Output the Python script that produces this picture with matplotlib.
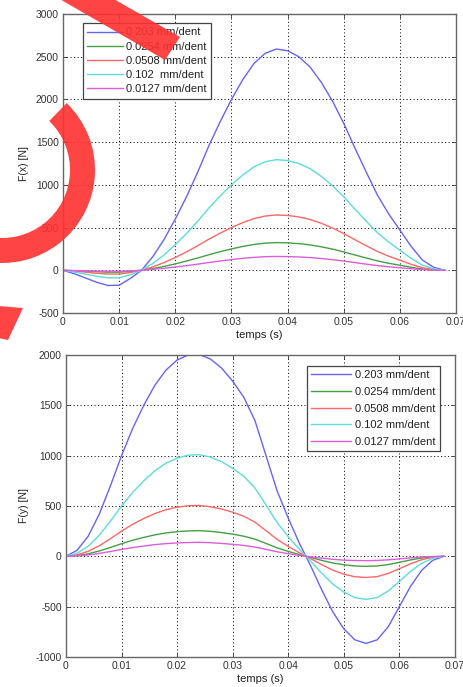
import matplotlib
matplotlib.use('Agg')
import numpy as np
from matplotlib import pyplot as plt
from matplotlib.patches import Wedge, Polygon
from matplotlib.transforms import IdentityTransform

plt.rcParams['font.family'] = ['Liberation Sans', 'DejaVu Sans']

# sample times (ms)
t_ms = [0, 2, 4, 6, 8, 10, 12, 14, 16, 18, 20, 22, 24, 26, 28, 30, 32, 34,
        36, 38, 40, 42, 44, 46, 48, 50, 52, 54, 56, 58, 60, 62, 64, 66, 68]

labels_x = ['0.203 mm/dent', '0.0254 mm/dent', '0.0508 mm/dent',
            '0.102  mm/dent', '0.0127 mm/dent']
labels_y = ['0.203 mm/dent', '0.0254 mm/dent', '0.0508 mm/dent',
            '0.102 mm/dent', '0.0127 mm/dent']
colors = ['#6464ff', '#44a044', '#ff6666', '#5cdcdc', '#dc5cdc']

# F(x) [N]
fx_0203 = [0, -40, -90, -140, -178, -175, -95, 0, 160, 360, 600, 860, 1150,
           1460, 1740, 2000, 2230, 2420, 2540, 2590, 2570, 2500, 2380, 2200,
           1980, 1720, 1430, 1150, 880, 660, 470, 280, 120, 35, 0]
fx_00254 = [0, -5, -11, -17, -22, -22, -13, 0, 20, 45, 75, 108, 144, 182,
            218, 250, 279, 302, 318, 324, 321, 312, 297, 275, 248, 215, 179,
            144, 110, 82, 59, 35, 15, 4, 0]
fx_00508 = [0, -10, -22, -35, -44, -44, -26, 0, 40, 90, 150, 215, 288, 365,
            435, 500, 558, 605, 635, 648, 642, 625, 595, 550, 495, 430, 358,
            288, 220, 165, 118, 70, 30, 9, 0]
fx_0102 = [0, -20, -45, -70, -88, -88, -52, 0, 80, 180, 300, 430, 575, 730,
           870, 1000, 1115, 1210, 1270, 1295, 1285, 1250, 1190, 1100, 990,
           860, 715, 575, 440, 330, 235, 140, 60, 18, 0]
fx_00127 = [0, -3, -6, -9, -11, -11, -7, 0, 10, 23, 38, 54, 72, 91, 109, 125,
            140, 151, 159, 162, 160, 156, 149, 138, 124, 108, 90, 72, 55, 41,
            30, 18, 8, 2, 0]

# F(y) [N]
fy_0203 = [0, 60, 200, 420, 700, 1000, 1270, 1500, 1700, 1850, 1950, 2000,
           2005, 1960, 1870, 1740, 1580, 1350, 1000, 650, 380, 130, -90, -330,
           -550, -720, -830, -865, -830, -700, -500, -300, -140, -40, 0]
fy_00254 = [0, 8, 25, 53, 88, 125, 160, 188, 213, 232, 245, 252, 255, 248,
            236, 220, 200, 171, 128, 84, 49, 17, -11, -40, -66, -84, -96, -100,
            -96, -82, -60, -36, -17, -5, 0]
fy_00508 = [0, 15, 50, 105, 175, 250, 318, 375, 425, 463, 488, 502, 505, 492,
            470, 438, 398, 340, 255, 168, 98, 35, -22, -82, -137, -177, -203,
            -210, -202, -170, -123, -74, -34, -10, 0]
fy_0102 = [0, 30, 100, 210, 350, 500, 635, 750, 850, 925, 975, 1005, 1010,
           985, 940, 875, 795, 680, 510, 335, 195, 70, -45, -165, -275, -355,
           -410, -428, -410, -345, -250, -150, -70, -20, 0]
fy_00127 = [0, 4, 14, 29, 48, 68, 87, 102, 116, 126, 133, 137, 139, 135, 128,
            119, 108, 92, 69, 45, 26, 9, -5, -18, -30, -38, -42, -43, -41, -35,
            -26, -16, -7, -2, 0]

x_ticks = [0, 0.01, 0.02, 0.03, 0.04, 0.05, 0.06, 0.07]
x_ticklabels = ['0', '0.01', '0.02', '0.03', '0.04', '0.05', '0.06', '0.07']

FS = 8


def style_axes(ax, ylim, yticks, ylabel):
    ax.set_xlim(0, 0.07)
    ax.set_ylim(*ylim)
    ax.set_xticks(x_ticks)
    ax.set_xticklabels(x_ticklabels)
    ax.set_yticks(yticks)
    ax.set_yticklabels([str(v) for v in yticks])
    ax.grid(True, color='#222222', linestyle=(0, (1.2, 2.4)), linewidth=0.7)
    ax.tick_params(direction='in', length=3, width=0.6, colors='#333333',
                   labelsize=7.4, top=True, right=True, pad=3)
    for s in ax.spines.values():
        s.set_color('#666666')
        s.set_linewidth(1.0)
    ax.set_xlabel('temps (s)', fontsize=FS, color='#222222', labelpad=2)
    ax.set_ylabel(ylabel, fontsize=FS - 0.5, color='#222222', labelpad=5)


def plot_panel(ax, series, labels, loc, anchor, spacing, hlen):
    t = np.array(t_ms) / 1000.0
    for vals, lab, c in zip(series, labels, colors):
        ax.plot(t, vals, color=c, linewidth=1.0, label=lab)
    leg = ax.legend(loc=loc, bbox_to_anchor=anchor, fontsize=FS,
                    fancybox=False, framealpha=1, edgecolor='#444444',
                    handlelength=hlen, handletextpad=0.3, labelspacing=spacing,
                    borderpad=0.4, borderaxespad=0)
    leg.get_frame().set_linewidth(0.9)
    for txt in leg.get_texts():
        txt.set_color('#222222')


fig = plt.figure(figsize=(4.63, 6.87), dpi=100)

ax1 = fig.add_axes([0.136, 0.5444, 0.849, 0.4352])
plot_panel(ax1, [fx_0203, fx_00254, fx_00508, fx_0102, fx_00127], labels_x,
           'upper left', (0.051, 0.97), 0.38, 3.2)
style_axes(ax1, (-500, 3000), [-500, 0, 500, 1000, 1500, 2000, 2500, 3000],
           'F(x) [N]')

ax2 = fig.add_axes([0.1425, 0.0437, 0.840, 0.4396])
plot_panel(ax2, [fy_0203, fy_00254, fy_00508, fy_0102, fy_00127], labels_y,
           'upper right', (0.961, 0.964), 0.6, 3.6)
style_axes(ax2, (-1000, 2000), [-1000, -500, 0, 500, 1000, 1500, 2000],
           'F(y) [N]')

# red mark drawn over the picture (pixel coordinates, origin bottom-left)
H = 687
red = '#ff3030'
arc = Wedge((2, H - 170), 93, -150, 46, width=25, transform=IdentityTransform(),
            facecolor=red, edgecolor='none', alpha=0.9, zorder=10)
fig.add_artist(arc)
band = Polygon([(58, H + 2), (112, H + 2), (180, H - 37), (165, H - 60)],
               closed=True, transform=IdentityTransform(), facecolor=red,
               edgecolor='none', alpha=0.9, zorder=10)
fig.add_artist(band)
dot = Polygon([(-2, H - 306), (23, H - 308), (8, H - 340), (-2, H - 338)],
              closed=True, transform=IdentityTransform(), facecolor=red,
              edgecolor='none', alpha=0.9, zorder=10)
fig.add_artist(dot)

fig.savefig('out.png', dpi=100)
